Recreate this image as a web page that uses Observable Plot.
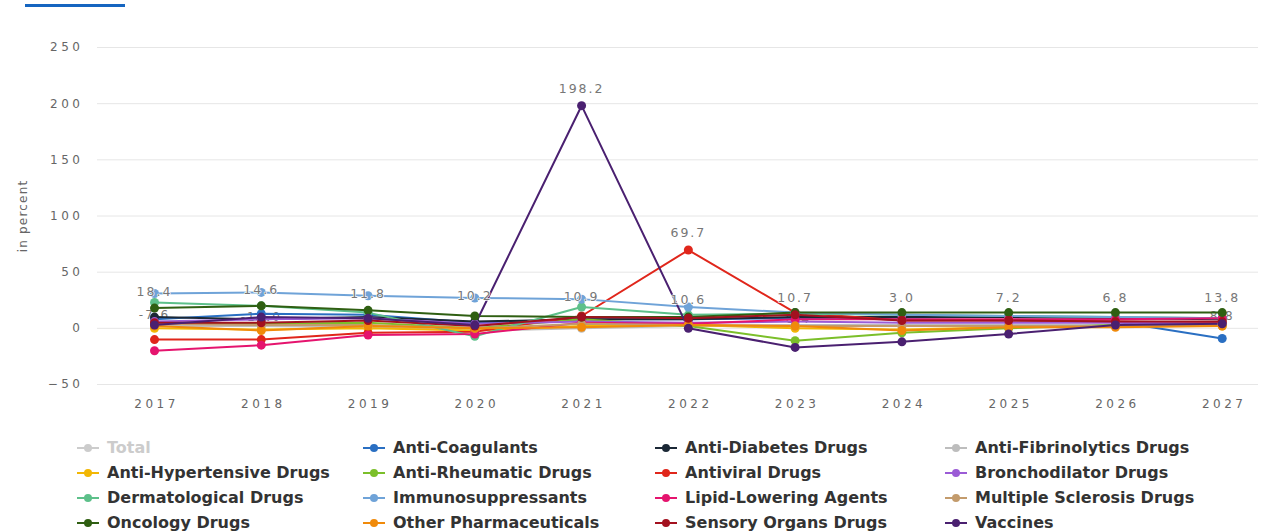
<!DOCTYPE html>
<html>
<head>
<meta charset="utf-8">
<script src="https://cdn.jsdelivr.net/npm/d3@7"></script>
<script src="https://cdn.jsdelivr.net/npm/@observablehq/plot@0.6"></script>
<style>
  body { margin: 0; background: #fff; font-family: "DejaVu Sans", sans-serif; }
  #wrap { position: relative; width: 1265px; height: 532px; overflow: hidden; }
  #tab { position: absolute; left: 25px; top: 4px; width: 100px; height: 3px; background: #1565c0; }
  #chart { position: absolute; left: 0; top: 0; }
  #chart g[aria-label="x-axis tick label"] text,
  #chart g[aria-label="y-axis tick label"] text { letter-spacing: 3.5px; }
  #chart g[aria-label="y-axis label"] text { letter-spacing: 1.2px; }
  #chart g[aria-label="text"] text { letter-spacing: 2px; }
  #legend { position: absolute; left: 77px; top: 435px; display: grid;
    grid-template-columns: 286px 292px 290px 300px; grid-auto-rows: 25px; }
  .item { display: flex; align-items: center; font-size: 16px; font-weight: bold; color: #333; white-space: nowrap; }
  .item.hidden { color: #cccccc; }
  .sym { position: relative; width: 22px; height: 12px; margin-right: 8px; }
  .sym .ln { position: absolute; left: 0; top: 5px; width: 22px; height: 2px; }
  .sym .dt { position: absolute; left: 7px; top: 2px; width: 8px; height: 8px; border-radius: 50%; }
</style>
</head>
<body>
<div id="wrap">
  <div id="chart"></div>
  <div id="tab"></div>
  <div id="legend"></div>
</div>
<script>
const years = [2017, 2018, 2019, 2020, 2021, 2022, 2023, 2024, 2025, 2026, 2027];

const seriesNames = [
  "Total", "Anti-Coagulants", "Anti-Diabetes Drugs", "Anti-Fibrinolytics Drugs",
  "Anti-Hypertensive Drugs", "Anti-Rheumatic Drugs", "Antiviral Drugs", "Bronchodilator Drugs",
  "Dermatological Drugs", "Immunosuppressants", "Lipid-Lowering Agents", "Multiple Sclerosis Drugs",
  "Oncology Drugs", "Other Pharmaceuticals", "Sensory Organs Drugs", "Vaccines"
];
const seriesColors = [
  "#c8c8c8", "#2a6fc2", "#1b2836", "#bdbdbd",
  "#f2b705", "#7bbf2a", "#e0261b", "#9b5bd6",
  "#5dc08a", "#6fa3d8", "#e5146e", "#c39b6c",
  "#2f5f12", "#f08a0a", "#a3111f", "#4a2070"
];
const hiddenSeries = ["Total"];

// growth values in percent, 2017..2027
const antiCoagulants   = [8, 13, 12, 5, 8, 8, 9, 8, 7, 6, -9];
const antiDiabetes     = [10, 8, 10, 6, 8, 8, 10, 10, 10, 9, 8];
const antiFibrinolytic = [2, 2, 1, -2, 0, 2, 3, 3, 3, 3, 3];
const antiHypertensive = [0, -1, 0, -2, 2, 3, 0, -1, 1, 2, 2];
const antiRheumatic    = [5, 4, 5, 0, 8, 2, -11, -4, 0, 3, 4];
const antiviral        = [-10, -10, -4, -3, 11, 69.7, 14, 7, 7, 6, 5];
const bronchodilator   = [6, 8, 9, 4, 6, 5, 6, 5, 5, 5, 4];
const dermatological   = [23, 20, 14, -7, 19, 12, 13, 12, 11, 10, 9];
const immunosupp       = [31, 32, 29, 27, 26, 19, 14, 12, 11, 10, 9];
const lipidLowering    = [-20, -15, -6, -5, 5, 4, 8, 8, 8, 8, 9];
const multipleSclerosis= [4, 3, 3, 0, 4, 3, 2, 2, 2, 2, 3];
const oncology         = [18, 20, 16, 11, 10, 10, 14, 14, 14, 14, 14];
const otherPharma      = [2, -2, 2, 0, 1, 3, 2, -2, 1, 1, 2];
const sensoryOrgans    = [5, 5, 7, 2, 10, 9, 12, 7, 7, 6, 6];
const vaccines         = [3, 10, 9, 3, 198.2, 0, -17, -12, -5, 3, 4];

const seriesValues = {
  "Anti-Coagulants": antiCoagulants, "Anti-Diabetes Drugs": antiDiabetes,
  "Anti-Fibrinolytics Drugs": antiFibrinolytic, "Anti-Hypertensive Drugs": antiHypertensive,
  "Anti-Rheumatic Drugs": antiRheumatic, "Antiviral Drugs": antiviral,
  "Bronchodilator Drugs": bronchodilator, "Dermatological Drugs": dermatological,
  "Immunosuppressants": immunosupp, "Lipid-Lowering Agents": lipidLowering,
  "Multiple Sclerosis Drugs": multipleSclerosis, "Oncology Drugs": oncology,
  "Other Pharmaceuticals": otherPharma, "Sensory Organs Drugs": sensoryOrgans, "Vaccines": vaccines
};

// data labels as shown in the picture, and which series they sit on
const topLabels = ["18.4", "14.6", "11.8", "10.2", "10.9", "10.6", "10.7", "3.0", "7.2", "6.8", "13.8"];
const topLabelSeries = ["Immunosuppressants", "Immunosuppressants", "Immunosuppressants", "Immunosuppressants",
  "Immunosuppressants", "Dermatological Drugs", "Oncology Drugs", "Oncology Drugs", "Oncology Drugs", "Oncology Drugs", "Oncology Drugs"];
const innerLabelYears = [2017, 2018, 2023, 2027];
const innerLabels = ["-7.6", "-11.0", "-8.4", "8.8"];
const innerLabelSeries = ["Anti-Diabetes Drugs", "Bronchodilator Drugs", "Bronchodilator Drugs", "Lipid-Lowering Agents"];
const peakLabelYears = [2021, 2022];
const peakLabelSeries = ["Vaccines", "Antiviral Drugs"];

const rows = [];
for (const name of seriesNames) {
  if (hiddenSeries.includes(name)) continue;
  const vals = seriesValues[name];
  years.forEach((y, i) => rows.push({series: name, year: y, value: vals[i]}));
}
const vOf = (s, yr) => seriesValues[s][years.indexOf(yr)];
const topRows = years.map((y, i) => ({year: y, text: topLabels[i], value: vOf(topLabelSeries[i], y),
  off: topLabelSeries[i] === "Immunosuppressants" ? -2 : -15}));
const innerRows = innerLabelYears.map((y, i) => ({year: y, text: innerLabels[i], value: vOf(innerLabelSeries[i], y)}));
const peakRows = peakLabelYears.map((y, i) => ({year: y, value: vOf(peakLabelSeries[i], y),
  text: d3.format(".1f")(vOf(peakLabelSeries[i], y))}));

const colorScale = {domain: seriesNames, range: seriesColors};

const chart = Plot.plot({
  width: 1265,
  height: 425,
  marginLeft: 97,
  marginRight: 7,
  marginTop: 47,
  marginBottom: 41,
  style: {fontFamily: "DejaVu Sans, sans-serif", fontSize: "12px", color: "#666", background: "transparent"},
  x: {type: "linear", domain: [2016.466, 2027.34]},
  y: {domain: [-50, 250]},
  color: colorScale,
  marks: [
    Plot.gridY([-50, 0, 50, 100, 150, 200, 250], {stroke: "#e6e6e6", strokeOpacity: 1, strokeWidth: 1}),
    Plot.axisY({ticks: [-50, 0, 50, 100, 150, 200, 250], tickSize: 0, tickPadding: 14, fill: "#666",
      label: "in percent", labelAnchor: "center", labelArrow: "none", labelOffset: 79}),
    Plot.axisX({ticks: years, tickFormat: d3.format("d"), tickSize: 0, tickPadding: 15, fill: "#666", label: null, dx: 2}),
    Plot.text(innerRows, {x: "year", y: "value", text: "text", fill: "#777", fontSize: 12, dy: -2,
      stroke: "white", strokeWidth: 5, strokeOpacity: 0.85}),
    Plot.line(rows, {x: "year", y: "value", z: "series", stroke: "series", strokeWidth: 2}),
    Plot.dot(rows, {x: "year", y: "value", fill: "series", r: 4.5, stroke: "none"}),
    Plot.text(topRows, {x: "year", y: "value", text: "text", fill: "#777", fontSize: 12.5,
      stroke: "white", strokeWidth: 1.5, strokeOpacity: 0.9}),
    Plot.text(peakRows, {x: "year", y: "value", text: "text", fill: "#777", fontSize: 12.5, dy: -17,
      stroke: "white", strokeWidth: 2})
  ]
});
document.getElementById("chart").appendChild(chart);

// shift top labels by their per-row offset
(() => {
  const groups = chart.querySelectorAll("g[aria-label='text']");
  const g = groups[1];
  if (g) g.querySelectorAll("text").forEach((t, i) => t.setAttribute("dy", topRows[i].off));
})();

const legend = document.getElementById("legend");
seriesNames.forEach((name, i) => {
  const hidden = hiddenSeries.includes(name);
  const col = hidden ? "#cccccc" : seriesColors[i];
  const it = document.createElement("div");
  it.className = "item" + (hidden ? " hidden" : "");
  it.innerHTML = `<span class="sym"><span class="ln" style="background:${col}"></span><span class="dt" style="background:${col}"></span></span>${name}`;
  legend.appendChild(it);
});
</script>
</body>
</html>
